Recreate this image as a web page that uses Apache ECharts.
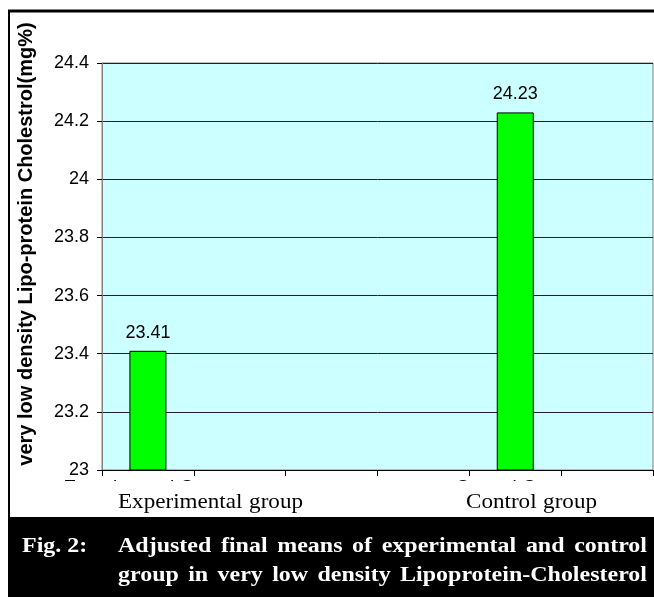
<!DOCTYPE html>
<html><head><meta charset="utf-8">
<script src="https://cdn.jsdelivr.net/npm/echarts@6/dist/echarts.min.js"></script>
<style>html,body{margin:0;padding:0;background:#fff}#c{width:654px;height:597px}</style>
</head><body><div id="c"></div>
<script>
const categories = ['Experimental Group', '', '', '', 'Control Group', ''];
const values = [23.41, '-', '-', '-', 24.23, '-'];
const yMin = 23, yMax = 24.4, yStep = 0.2;
const yTitle = 'very low density Lipo-protein Cholestrol(mg%)';
const xNames = [['Experimental', 'group'], ['Control', 'group']];
const captionLabel = 'Fig. 2:';
const captionLines = [
  'Adjusted final means of experimental and control',
  'group in very low density Lipoprotein-Cholesterol'
];

const SANS = 'Arial, "Liberation Sans", sans-serif';
const SERIF = '"Times New Roman", "Liberation Serif", serif';

const mctx = document.createElement('canvas').getContext('2d');
function justify(words, x0, x1, y, font, color, sx) {
  mctx.font = font;
  const widths = words.map(w => mctx.measureText(w).width * sx);
  const total = widths.reduce((a, b) => a + b, 0);
  const gap = words.length > 1 ? (x1 - x0 - total) / (words.length - 1) : 0;
  let x = x0;
  return words.map((w, i) => {
    const el = { type: 'text', x: x, y: y, z: 100, scaleX: sx,
      style: { text: w, font: font, fill: color, textAlign: 'left', textVerticalAlign: 'middle' } };
    x += widths[i] + gap;
    return el;
  });
}

const capFont = 'bold 22px ' + SERIF;
const capScale = 1.09;
const xFont = '21px ' + SERIF;
const xScale = 1.1;
let graphics = [
  { type: 'rect', z: 90, shape: { x: 10, y: 481, width: 644, height: 36 }, style: { fill: '#fff' } },
  { type: 'rect', z: 90, shape: { x: 8, y: 517, width: 646, height: 80 }, style: { fill: '#000' } },
  { type: 'line', z: 95, shape: { x1: 8, y1: 11, x2: 654, y2: 11 }, style: { stroke: '#000', lineWidth: 3 } },
  { type: 'line', z: 95, shape: { x1: 9, y1: 10, x2: 9, y2: 517 }, style: { stroke: '#000', lineWidth: 2 } },
  { type: 'text', z: 100, x: 26, y: 244, rotation: Math.PI / 2,
    style: { text: yTitle, font: 'bold 20px ' + SANS, fill: '#000', textAlign: 'center', textVerticalAlign: 'middle' } },
  { type: 'text', z: 100, x: 22, y: 546, scaleX: capScale,
    style: { text: captionLabel, font: capFont, fill: '#fff', textAlign: 'left', textVerticalAlign: 'middle' } }
];
graphics = graphics.concat(justify(xNames[0], 118, 303, 502, xFont, '#000', xScale));
graphics = graphics.concat(justify(xNames[1], 466, 597, 502, xFont, '#000', xScale));
graphics = graphics.concat(justify(captionLines[0].split(' '), 118, 647, 546, capFont, '#fff', capScale));
graphics = graphics.concat(justify(captionLines[1].split(' '), 118, 647, 575, capFont, '#fff', capScale));

const chart = echarts.init(document.getElementById('c'), null, { renderer: 'canvas' });
chart.setOption({
  animation: false,
  backgroundColor: '#fff',
  grid: { left: 102, right: 1, top: 63, bottom: 127, show: true, backgroundColor: '#CCFFFF', borderColor: '#808080', borderWidth: 1 },
  xAxis: {
    type: 'category', data: categories,
    axisLine: { lineStyle: { color: '#000', width: 1 } },
    axisTick: { show: true, length: 6, lineStyle: { color: '#000' } },
    axisLabel: { interval: 0, margin: 8, fontSize: 19, fontFamily: SANS, color: '#000' }
  },
  yAxis: {
    type: 'value', min: yMin, max: yMax, interval: yStep,
    axisLine: { show: true, lineStyle: { color: '#808080', width: 1 } },
    axisTick: { show: true, length: 5, lineStyle: { color: '#000' } },
    axisLabel: { margin: 13, fontSize: 18, fontFamily: SANS, color: '#000' },
    splitLine: { show: true, lineStyle: { color: '#222', width: 1 } }
  },
  series: [{
    type: 'bar', data: values, barWidth: 37,
    itemStyle: { color: '#00FF00', borderColor: '#000', borderWidth: 1 },
    label: { show: true, position: 'top', distance: 9, fontSize: 18, fontFamily: SANS, color: '#000' }
  }],
  graphic: graphics
});
</script></body></html>
